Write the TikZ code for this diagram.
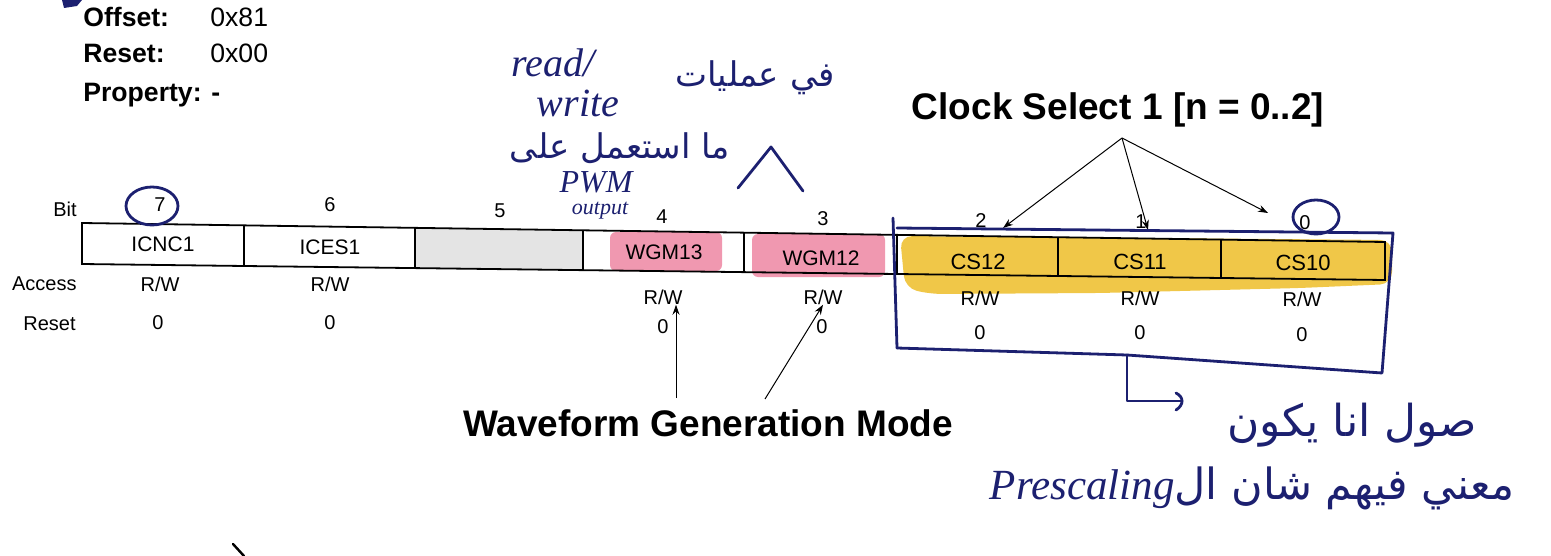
\documentclass[tikz,border=0pt]{standalone}
\usepackage{fontspec}
\setmainfont{Liberation Sans}
\newfontfamily\arabicfont[Script=Arabic]{DejaVu Sans}
\newfontfamily\handfont{Liberation Serif}
\TeXXeTstate=1
\usetikzlibrary{arrows.meta}
\definecolor{ink}{RGB}{28,32,112}
\definecolor{pinkhl}{RGB}{236,118,150}
\definecolor{yellowhl}{RGB}{238,190,40}
\definecolor{grayfill}{RGB}{228,228,228}
\begin{document}
\begin{tikzpicture}[x=0.5pt,y=-0.5pt,
  txt/.style={inner sep=0pt, font=\fontsize{10}{12}\selectfont},
  celltxt/.style={inner sep=0pt, font=\fontsize{10.5}{12}\selectfont},
  celltxtb/.style={inner sep=0pt, font=\fontsize{11}{12}\selectfont},
  head/.style={inner sep=0pt, font=\bfseries\fontsize{13.3}{16}\selectfont, anchor=base west},
  headv/.style={inner sep=0pt, font=\fontsize{13.3}{16}\selectfont, anchor=base west},
  title/.style={inner sep=0pt, font=\bfseries\fontsize{18.5}{22}\selectfont},
  reg/.style={line width=0.9pt, black},
  arr/.style={line width=0.5pt, black, -{Stealth[length=5pt,width=3.5pt]}},
  inkline/.style={line width=1.4pt, ink, line cap=round, line join=round},
  arhand/.style={inner sep=0pt, text=ink, font=\arabicfont\fontsize{17}{20}\selectfont},
  lathand/.style={inner sep=0pt, text=ink, font=\handfont\itshape\fontsize{20}{22}\selectfont}
]
\useasboundingbox (0,0) rectangle (1551,556);
\fill[white] (0,0) rectangle (1551,556);

% header
\node[head] (off) at (83,27) {Offset:};
\node[headv] (offv) at (210,27) {0x81};
\node[head] (rst) at (83,63) {Reset:};
\node[headv] (rstv) at (210,63) {0x00};
\node[head] (prop) at (83,102) {Property: -};

% highlights
\fill[pinkhl, opacity=0.75, rounded corners=3pt] (610,232) rectangle (722,271);
\fill[pinkhl, opacity=0.75, rounded corners=3pt] (752,234) rectangle (885,277);
\fill[grayfill] (415,227.9) -- (583,230.3) -- (583,270.2) -- (415,268.1) -- cycle;
\fill[yellowhl, opacity=0.85, rounded corners=6pt]
  (900,236) -- (1392,240) -- (1392,284) -- (1300,288) -- (1100,293) -- (930,294) -- (905,288) -- cycle;

% register outline
\draw[reg] (82,223) -- (1385,242) -- (1385,280) -- (82,264) -- cycle;
\draw[reg] (244,225.4) -- (244,266.0);
\draw[reg] (415,227.9) -- (415,268.1);
\draw[reg] (583,230.3) -- (583,270.2);
\draw[reg] (744,232.7) -- (744,272.1);
\draw[reg] (897,234.9) -- (897,274.0);
\draw[reg] (1058,237.2) -- (1058,276.0);
\draw[reg] (1221,239.6) -- (1221,278.0);

% cell names
\node[celltxt] (icnc) at (163,244) {ICNC1};
\node[celltxt] (ices) at (330,247) {ICES1};
\node[celltxt] (wgm13) at (664,252) {WGM13};
\node[celltxt] (wgm12) at (821,258) {WGM12};
\node[celltxtb] (cs12) at (978,262) {CS12};
\node[celltxtb] (cs11) at (1140,262) {CS11};
\node[celltxtb] (cs10) at (1303,263) {CS10};

% row labels
\node[txt, anchor=east] (bitl) at (77,209) {Bit};
\node[txt, anchor=east] (accl) at (77,284) {Access};
\node[txt, anchor=east] (resl) at (76,324) {Reset};

% bit numbers
\node[txt] (b7) at (160,205) {7};
\node[txt] (b6) at (330,205) {6};
\node[txt] (b5) at (500,211) {5};
\node[txt] (b4) at (662,217) {4};
\node[txt] (b3) at (823,219) {3};
\node[txt] (b2) at (981,221) {2};
\node[txt] (b1) at (1141,222) {1};
\node[txt] (b0) at (1305,223) {0};

% access
\node[txt] (rw7) at (160,284) {R/W};
\node[txt] (rw6) at (330,284) {R/W};
\node[txt] (rw4) at (663,297) {R/W};
\node[txt] (rw3) at (823,297) {R/W};
\node[txt] (rw2) at (980,298) {R/W};
\node[txt] (rw1) at (1140,298) {R/W};
\node[txt] (rw0) at (1302,299) {R/W};

% reset values
\node[txt] (r7) at (158,323) {0};
\node[txt] (r6) at (330,323) {0};
\node[txt] (r4) at (663,327) {0};
\node[txt] (r3) at (822,327) {0};
\node[txt] (r2) at (980,333) {0};
\node[txt] (r1) at (1140,333) {0};
\node[txt] (r0) at (1302,335) {0};

% titles
\node[title] (cs) at (1118,110) {Clock Select 1 [n = 0..2]};
\node[title] (wgm) at (708,423) {Waveform Generation Mode};

% clock select arrows
\coordinate (csroot) at (1122,138);
\coordinate (t2) at (1003,228);
\coordinate (t1) at (1148,230);
\coordinate (t0) at (1268,213);
\draw[arr] (csroot) -- (t2);
\draw[arr] (csroot) -- (t1);
\draw[arr] (csroot) -- (t0);

% waveform arrows
\coordinate (w4s) at (676,398);
\coordinate (w3s) at (765,399);
\draw[arr] (w4s) -- (w4s |- rw4.south);
\draw[arr] (w3s) -- (rw3.south);

% handwritten ink: circles
\draw[inkline] (152,206) ellipse [x radius=26, y radius=19];
\draw[inkline] (1316,217) ellipse [x radius=23, y radius=17];

% bracket around CS bits
\coordinate (bl) at (897,348);
\coordinate (bm) at (1127,355);
\coordinate (br) at (1382,373);
\coordinate (tr) at (1393,233);
\coordinate (tl) at (897,228);
\draw[inkline] (893,218) -- (bl);
\draw[inkline] (tl) -- (tr) -- (br) -- (bm) -- (bl);
\coordinate (bk) at (1127,401);
\coordinate (be) at (1182,401);
\draw[inkline] (bm) -- (bk) -- (be);
\draw[inkline] (1176,393) .. controls (1184,397) and (1184,405) .. (1176,410);

% caret
\draw[inkline] (738,188) -- (771,147) -- (803,191);

% handwritten texts
\node[lathand] (read) at (553,63) {read/};
\node[lathand] (write) at (578,103) {write};
\node[arhand] (fi) at (755,78) {\beginR في عمليات\endR};
\node[arhand] (ma) at (620,148) {\beginR ما استعمل على\endR};
\node[lathand, font=\handfont\itshape\fontsize{16}{18}\selectfont] (pwm) at (596,182) {PWM};
\node[lathand, font=\handfont\itshape\fontsize{11}{12}\selectfont] (outp) at (600,211) {output};
\node[arhand, font=\arabicfont\fontsize{22}{26}\selectfont] (sol) at (1352,425) {\beginR صول انا يكون\endR};
\node[arhand, font=\arabicfont\fontsize{21.5}{26}\selectfont] (mani) at (1252,488)
  {\beginR معني فيهم شان ال\beginL{\handfont\itshape Prescaling}\endL\endR};

% stray marks
\fill[ink] (62,0) -- (82,0) -- (77,6) -- (64,8) -- cycle;
\draw[line width=1.2pt, black, line cap=round] (233,544) -- (244,556);
\end{tikzpicture}
\end{document}
